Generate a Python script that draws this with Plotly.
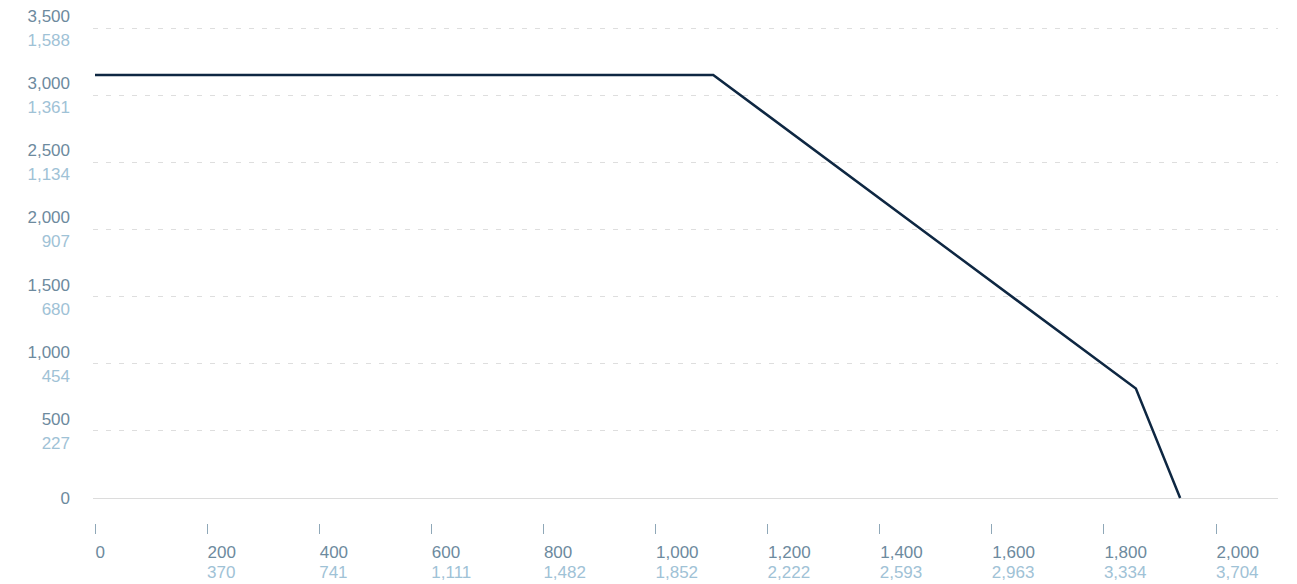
import plotly.graph_objects as go

# Data (payload-range)
range_nmi = [0, 1103, 1857, 1936]
payload_lbs = [3150, 3150, 815, 0]

x_ticks = [0, 200, 400, 600, 800, 1000, 1200, 1400, 1600, 1800, 2000]
x_labels_nmi = ["0", "200", "400", "600", "800", "1,000", "1,200", "1,400", "1,600", "1,800", "2,000"]
x_labels_km = ["", "370", "741", "1,111", "1,482", "1,852", "2,222", "2,593", "2,963", "3,334", "3,704"]

y_ticks = [0, 500, 1000, 1500, 2000, 2500, 3000, 3500]
y_labels_lbs = ["0", "500", "1,000", "1,500", "2,000", "2,500", "3,000", "3,500"]
y_labels_kg = ["", "227", "454", "680", "907", "1,134", "1,361", "1,588"]

DARK = "#6d8a9e"
LIGHT = "#9fc2d6"
FONT = "Liberation Sans, Arial, sans-serif"
FS = 17
XR = [-3.57, 2110.6]
YR = [-186.2, 3604.3]

fig = go.Figure()
fig.add_trace(go.Scatter(x=range_nmi, y=payload_lbs, mode="lines",
                         line=dict(color="#0e2742", width=2.5),
                         showlegend=False, hoverinfo="x+y"))
# helper traces so overlay axes are drawn
for xa, ya in [("x", "y2"), ("x", "y3"), ("x2", "y")]:
    fig.add_trace(go.Scatter(x=[None], y=[None], xaxis=xa, yaxis=ya,
                             mode="lines", showlegend=False, hoverinfo="skip"))

fig.update_layout(
    width=1297, height=584,
    margin=dict(l=93, r=19, t=14, b=61, autoexpand=False),
    paper_bgcolor="white", plot_bgcolor="white",
    font=dict(family=FONT, size=FS, color=DARK),
    xaxis=dict(range=XR, tickmode="array", tickvals=x_ticks, ticktext=x_labels_nmi,
               ticks="outside", ticklen=10, tickwidth=1, tickcolor="#8fa8b8",
               ticklabelposition="outside right", ticklabelstandoff=14,
               showgrid=False, zeroline=False, showline=False, automargin=False,
               tickfont=dict(family=FONT, size=FS, color=DARK)),
    xaxis2=dict(range=XR, overlaying="x", side="bottom", anchor="y",
                tickmode="array", tickvals=x_ticks, ticktext=x_labels_km,
                ticks="", ticklabelposition="outside right", ticklabelstandoff=37,
                showgrid=False, zeroline=False, showline=False, automargin=False,
                tickfont=dict(family=FONT, size=FS, color=LIGHT)),
    yaxis=dict(range=YR, tickmode="array", tickvals=y_ticks,
               ticktext=["0", "", "", "", "", "", "", ""],
               ticks="", ticklabelstandoff=22, automargin=False,
               showgrid=True, gridcolor="#dedede", gridwidth=1, griddash="5px,8px",
               zeroline=True, zerolinecolor="#dcdcdc", zerolinewidth=1, showline=False,
               tickfont=dict(family=FONT, size=FS, color=DARK)),
    yaxis2=dict(range=YR, overlaying="y", side="left", anchor="x",
                tickmode="array", tickvals=y_ticks[1:], ticktext=y_labels_lbs[1:],
                ticks="", ticklabelstandoff=22, ticklabelshift=-12, automargin=False,
                showgrid=False, zeroline=False, showline=False,
                tickfont=dict(family=FONT, size=FS, color=DARK)),
    yaxis3=dict(range=YR, overlaying="y", side="left", anchor="x",
                tickmode="array", tickvals=y_ticks[1:], ticktext=y_labels_kg[1:],
                ticks="", ticklabelstandoff=22, ticklabelshift=12, automargin=False,
                showgrid=False, zeroline=False, showline=False,
                tickfont=dict(family=FONT, size=FS, color=LIGHT)),
)

fig.write_html("out.html", config={"displayModeBar": False},
               post_script="document.body.style.margin='0';document.body.style.overflow='hidden';")
